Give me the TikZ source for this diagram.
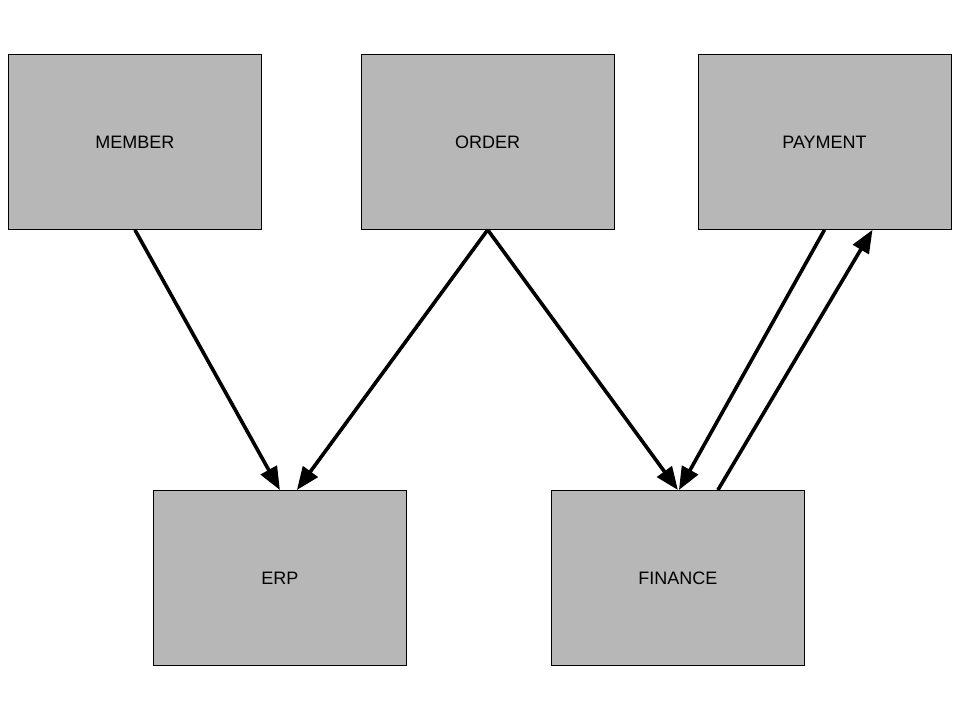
\documentclass[tikz,border=0pt]{standalone}
\usepackage{fontspec}
\setmainfont{Liberation Sans}
\usetikzlibrary{positioning}
\usetikzlibrary{arrows.meta}
\definecolor{boxgray}{HTML}{B7B7B7}
\tikzstyle{system} = [rectangle, minimum width=253pt, minimum height=175pt, text centered, draw=black, line width=0.8pt, fill=boxgray, font=\fontsize{18pt}{20pt}\selectfont]
\tikzstyle{arrow} = [line width=3.6pt, -{Triangle[length=23pt,width=18pt]}]

\begin{document}
\begin{tikzpicture}[x=1pt, y=-1pt, node distance=100pt]
        \useasboundingbox (0,0) rectangle (960,720);
        \node (member) [system, anchor=north west] at (8,54) {MEMBER};
        \node (order) [system, right=99pt of member] {ORDER};
        \node (payment) [system, right=83pt of order] {PAYMENT};
        \node (erp) [system, anchor=north west] at (153,490) {ERP};
        \node (finance) [system, anchor=north west] at (551,490) {FINANCE};

        \draw [arrow] (member.south) -- (erp.north);
        \draw [arrow] (order.south) -- ([xshift=17pt]erp.north);
        \draw [arrow] (order.south) -- (finance.north);
        \draw [arrow] (payment.south) -- ([xshift=1pt]finance.north);
        \draw [arrow] ([xshift=40pt]finance.north) -- ([xshift=48pt]payment.south);
    \end{tikzpicture}
\end{document}
